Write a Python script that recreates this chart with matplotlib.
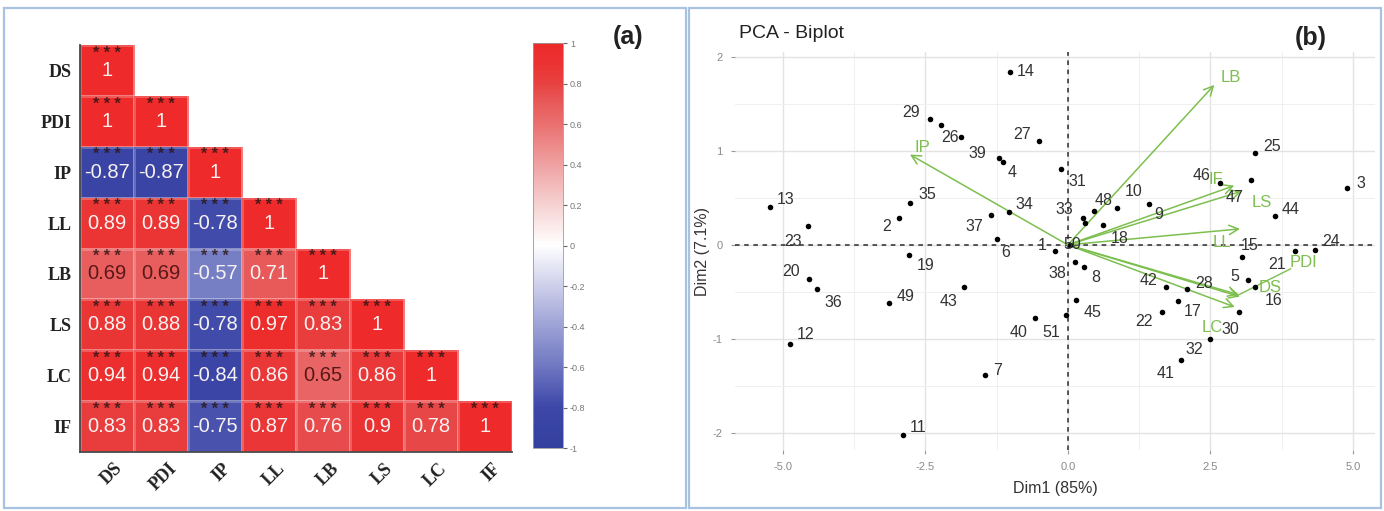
import numpy as np
import matplotlib
matplotlib.use("Agg")
import matplotlib.pyplot as plt
from matplotlib.colors import LinearSegmentedColormap, Normalize
from matplotlib.patches import Rectangle, FancyArrowPatch
from matplotlib.cm import ScalarMappable

# ---------------- data ----------------
variables = ["DS", "PDI", "IP", "LL", "LB", "LS", "LC", "IF"]
# lower triangle of the correlation matrix, row by row
corr_DS = [1]
corr_PDI = [1, 1]
corr_IP = [-0.87, -0.87, 1]
corr_LL = [0.89, 0.89, -0.78, 1]
corr_LB = [0.69, 0.69, -0.57, 0.71, 1]
corr_LS = [0.88, 0.88, -0.78, 0.97, 0.83, 1]
corr_LC = [0.94, 0.94, -0.84, 0.86, 0.65, 0.86, 1]
corr_IF = [0.83, 0.83, -0.75, 0.87, 0.76, 0.9, 0.78, 1]
signif_mark = "* * *"
cbar_ticks = [-1, -0.8, -0.6, -0.4, -0.2, 0, 0.2, 0.4, 0.6, 0.8, 1]

# PCA individuals
ind_labels = [str(i) for i in range(1, 52)] + ["", ""]
ind_dim1 = [-0.22, -2.96, 4.89, -1.13, 3.16, -1.25, -1.45, 0.29, 1.42, 0.86,
            -2.90, -4.88, -5.23, -1.02, 3.05, 3.28, 1.93, 0.61, -2.79, -4.54,
            3.98, 1.65, -4.56, 4.33, 3.28, -1.88, -0.51, 2.09, -2.42, 3.00,
            -0.12, 2.49, 0.26, -1.04, -2.77, -4.40, -1.35, 0.12, -1.20, -0.58,
            1.98, 1.72, -1.82, 3.64, 0.14, 2.67, 3.21, 0.46, -3.13, 0.03,
            -0.03, -2.23, 0.30]
ind_dim2 = [-0.06, 0.29, 0.60, 0.88, -0.37, 0.06, -1.38, -0.24, 0.43, 0.39,
            -2.02, -1.05, 0.40, 1.84, -0.13, -0.45, -0.60, 0.21, -0.11, -0.36,
            -0.07, -0.71, 0.20, -0.05, 0.98, 1.15, 1.10, -0.47, 1.34, -0.71,
            0.81, -1.00, 0.29, 0.35, 0.45, -0.47, 0.32, -0.18, 0.92, -0.78,
            -1.22, -0.45, -0.45, 0.31, -0.59, 0.66, 0.69, 0.36, -0.62, 0.00,
            -0.74, 1.27, 0.23]

# PCA variables (arrows)
var_labels = ["IP", "LB", "IF", "LS", "LL", "DS", "PDI", "LC"]
var_dim1 = [-2.77, 2.57, 2.92, 3.05, 3.02, 3.02, 3.00, 2.93]
var_dim2 = [0.96, 1.70, 0.63, 0.57, 0.17, -0.55, -0.53, -0.66]

# ---------------- layout helpers ----------------
W, H, DPI = 1384, 511, 100
SANS = ["Liberation Sans", "DejaVu Sans"]
SERIF = ["Liberation Serif", "DejaVu Serif"]
plt.rcParams["font.family"] = SANS

fig = plt.figure(figsize=(W / DPI, H / DPI), dpi=DPI)
fig.patch.set_facecolor("white")


def px_axes(x0, y0, x1, y1):
    return fig.add_axes([x0 / W, 1 - y1 / H, (x1 - x0) / W, (y1 - y0) / H])


def px_text(x, y, s, **kw):
    fig.text(x / W, 1 - y / H, s, **kw)


# panel frames
for (x0, x1) in [(4, 686), (689, 1381)]:
    fig.patches.append(Rectangle((x0 / W, 1 - 508 / H), (x1 - x0) / W, 500 / H,
                                 transform=fig.transFigure, fill=False,
                                 ec="#A9C2E2", lw=1.6))

# ---------------- (a) correlation heatmap ----------------
rows = [corr_DS, corr_PDI, corr_IP, corr_LL, corr_LB, corr_LS, corr_LC, corr_IF]
n = len(variables)
mat = np.full((n, n), np.nan)
for i, r in enumerate(rows):
    mat[i, :len(r)] = r

cmap = LinearSegmentedColormap.from_list("corr", [
    (0.00, "#34409E"), (0.10, "#3C47A7"), (0.20, "#6F77C1"), (0.30, "#9CA1D5"),
    (0.40, "#CDCFEA"), (0.50, "#FFFFFF"), (0.60, "#F6D2D2"), (0.70, "#EFA2A2"),
    (0.80, "#EA7070"), (0.85, "#E85C5C"), (0.90, "#E84242"), (0.95, "#EB3232"),
    (1.00, "#EE2A2A")])
norm = Normalize(-1, 1)

ax = px_axes(80, 45, 512, 452)
ax.pcolormesh(np.arange(n + 1), np.arange(n + 1), np.ma.masked_invalid(mat),
              cmap=cmap, norm=norm, edgecolors=(1, 1, 1, 0.22), linewidth=0.8)
ax.set_xlim(0, n)
ax.set_ylim(n, 0)
for i in range(n):
    for j in range(i + 1):
        v = mat[i, j]
        ax.text(j + 0.5, i + 0.16, signif_mark, ha="center", va="center",
                fontsize=11.5, color="#2a1414", alpha=0.8, fontweight="bold")
        tcol = "#5a1818" if 0 < v < 0.7 else "#F7F2F2"
        ax.text(j + 0.5, i + 0.5, f"{v:g}", ha="center", va="center",
                fontsize=14.5, color=tcol)
for s in ["top", "right"]:
    ax.spines[s].set_visible(False)
for s in ["bottom", "left"]:
    ax.spines[s].set_color("#4a4a4a")
    ax.spines[s].set_linewidth(1.3)
ax.set_xticks([])
ax.set_yticks(np.arange(n) + 0.5)
ax.set_yticklabels(variables, fontfamily=SERIF, fontweight="bold",
                   fontsize=13, color="#222222")
ax.tick_params(axis="y", length=0, pad=6)
for j, name in enumerate(variables):
    ax.annotate(name, xy=(j + 0.5, n), xycoords="data", xytext=(7, -8),
                textcoords="offset pixels", rotation=45, ha="right", va="top",
                rotation_mode="anchor", fontfamily=SERIF, fontweight="bold",
                fontsize=13, color="#222222", annotation_clip=False)

cax = px_axes(533, 43, 563, 448)
cb = fig.colorbar(ScalarMappable(norm=norm, cmap=cmap), cax=cax, ticks=cbar_ticks)
cb.ax.set_yticklabels([f"{t:g}" for t in cbar_ticks])
cb.ax.tick_params(length=3, width=0.8, color="#666666", labelsize=6.5,
                  labelcolor="#777777", pad=2)
cb.outline.set_edgecolor("#9a9a9a")
cb.outline.set_linewidth(0.6)

px_text(628, 37, "(a)", fontsize=18, fontweight="bold", color="#222222",
        ha="center", va="center")

# ---------------- (b) PCA biplot ----------------
bx = px_axes(735, 52, 1375, 450)
bx.set_xlim(-5.84, 5.39)
bx.set_ylim(-2.18, 2.05)
bx.set_xticks([-5, -2.5, 0, 2.5, 5])
bx.set_xticklabels(["-5.0", "-2.5", "0.0", "2.5", "5.0"])
bx.set_yticks([-2, -1, 0, 1, 2])
bx.set_yticklabels(["-2", "-1", "0", "1", "2"])
bx.set_xticks([-3.75, -1.25, 1.25, 3.75], minor=True)
bx.set_yticks([-1.5, -0.5, 0.5, 1.5], minor=True)
bx.grid(which="major", color="#E3E3E3", lw=1.0)
bx.grid(which="minor", color="#EFEFEF", lw=0.7)
bx.set_axisbelow(True)
for s in bx.spines.values():
    s.set_visible(False)
bx.tick_params(which="major", length=3, width=0.8, color="#999999",
               labelsize=8, labelcolor="#8a8a8a", pad=6)
bx.tick_params(which="minor", length=0)
bx.axhline(0, ls=(0, (3, 3)), color="#2a2a2a", lw=1.1, zorder=1)
bx.axvline(0, ls=(0, (3, 3)), color="#2a2a2a", lw=1.1, zorder=1)

bx.set_xlabel("Dim1 (85%)", fontsize=11.5, color="#333333", labelpad=6)
bx.set_ylabel("Dim2 (7.1%)", fontsize=11.5, color="#333333", labelpad=2)

bx.scatter(ind_dim1, ind_dim2, s=16, color="black", zorder=3, linewidths=0)

ind_offsets = {
    "1": (-13, 5), "2": (-13, -9), "3": (14, 5), "4": (9, -10), "5": (-13, 3),
    "6": (9, -13), "7": (12, 4), "8": (11, -10), "9": (10, -10), "10": (17, 17),
    "11": (16, 7), "12": (16, 9), "13": (16, 8), "14": (16, 0), "15": (8, 12),
    "16": (19, -13), "17": (15, -10), "18": (17, -13), "19": (17, -10),
    "20": (-18, 7), "21": (-18, -13), "22": (-18, -10), "23": (-15, -15),
    "24": (17, 8), "25": (17, 6), "26": (-11, -1), "27": (-17, 7), "28": (17, 6),
    "29": (-19, 6), "30": (-8, -18), "31": (16, -13), "32": (-15, -11),
    "33": (-18, 8), "34": (16, 7), "35": (17, 8), "36": (16, -13),
    "37": (-17, -12), "38": (-17, -12), "39": (-22, 5), "40": (-16, -14),
    "41": (-15, -14), "42": (-17, 7), "43": (-16, -14), "44": (15, 6),
    "45": (17, -12), "46": (-18, 7), "47": (-16, -18), "48": (10, 11),
    "49": (16, 7), "50": (3, 0), "51": (-15, -18),
}
for lab, x, y in zip(ind_labels, ind_dim1, ind_dim2):
    if not lab:
        continue
    bx.annotate(lab, xy=(x, y), xytext=ind_offsets[lab],
                textcoords="offset pixels", ha="center", va="center",
                fontsize=11.5, color="#333333", zorder=4)

green = "#7DBF4E"
var_offsets = {"IP": (12, 7), "LB": (17, 7), "IF": (-18, 6), "LS": (20, -11),
               "LL": (-18, -14), "DS": (30, 9), "PDI": (65, 32), "LC": (-23, -21)}
for lab, x, y in zip(var_labels, var_dim1, var_dim2):
    bx.add_patch(FancyArrowPatch((0, 0), (x, y),
                                 arrowstyle="->,head_length=0.55,head_width=0.28",
                                 mutation_scale=12, color=green, lw=1.1,
                                 shrinkA=0, shrinkB=0, zorder=2))
    bx.annotate(lab, xy=(x, y), xytext=var_offsets[lab],
                textcoords="offset pixels", ha="center", va="center",
                fontsize=12, color=green, zorder=4)
# repel segment joining the PDI label to its arrow tip
pdi = var_labels.index("PDI")
bx.annotate("", xy=(var_dim1[pdi], var_dim2[pdi]), xytext=(52, 26),
            textcoords="offset pixels",
            arrowprops=dict(arrowstyle="-", color=green, lw=1.0,
                            shrinkA=0, shrinkB=0), zorder=2)

px_text(739, 33, "PCA - Biplot", fontsize=14, color="#222222",
        ha="left", va="center")
px_text(1311, 38, "(b)", fontsize=18, fontweight="bold", color="#222222",
        ha="center", va="center")

fig.savefig("out.png", dpi=DPI)
